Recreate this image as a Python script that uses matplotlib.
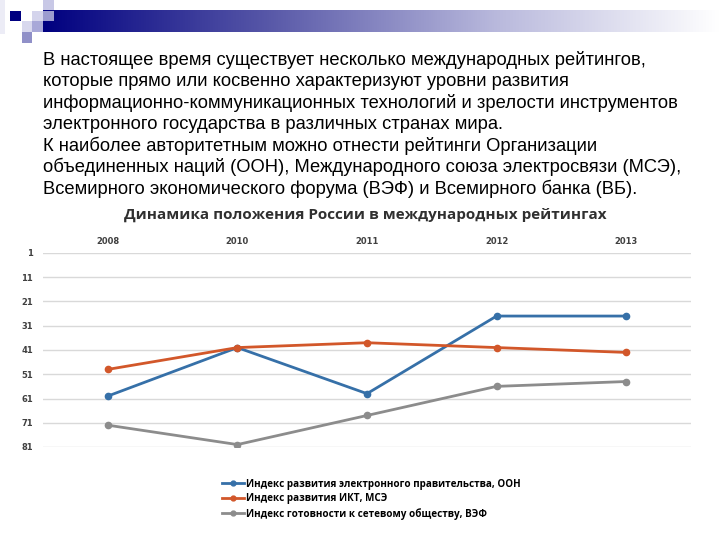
import matplotlib
matplotlib.use("Agg")
import matplotlib.pyplot as plt
import numpy as np
from matplotlib.patches import Rectangle
from matplotlib.lines import Line2D

# данные (место России в рейтинге)
years = ["2008", "2010", "2011", "2012", "2013"]
oon = [60, 40, 59, 27, 27]
mse = [49, 40, 38, 40, 42]
vef = [72, 80, 68, 56, 54]
y_ticks = [1, 11, 21, 31, 41, 51, 61, 71, 81]

labels = ["Индекс развития электронного правительства, ООН",
          "Индекс развития ИКТ, МСЭ",
          "Индекс готовности к сетевому обществу, ВЭФ"]
colors = ["#3670a8", "#d2572a", "#8c8c8c"]

paragraph = [
    "В настоящее время существует несколько международных рейтингов,",
    "которые прямо или косвенно характеризуют уровни развития",
    "информационно-коммуникационных технологий и зрелости инструментов",
    "электронного государства в различных странах мира.",
    "К наиболее авторитетным можно отнести рейтинги Организации",
    "объединенных наций (ООН), Международного союза электросвязи (МСЭ),",
    "Всемирного экономического форума (ВЭФ) и Всемирного банка (ВБ).",
]

fig = plt.figure(figsize=(7.2, 5.4), dpi=100)

# фон слайда: декоративные квадраты и градиентная полоса
deco = fig.add_axes([0, 0, 1, 1])
deco.axis("off")
grad = np.linspace(0, 1, 256).reshape(1, -1)
deco.imshow(grad, extent=(43, 720, 32, 10), aspect="auto",
            cmap=matplotlib.colors.LinearSegmentedColormap.from_list(
                "bar", ["#000080", "#5858a8", "#b8b8dc", "#ffffff"]))
deco.set_xlim(0, 720)
deco.set_ylim(540, 0)
squares = [
    (10, 11, 11, 10, "#000080"),
    (43, 0, 11, 10, "#c8c8e6"),
    (32, 11, 11, 10, "#d4d4ec"),
    (43, 11, 11, 10, "#9c9ccf"),
    (22, 21, 10, 11, "#d8d8ee"),
    (32, 21, 11, 11, "#a8a8d8"),
    (22, 32, 10, 11, "#9090c8"),
    (0, 0, 5, 34, "#ececf6"),
]
for x, y, w, h, c in squares:
    deco.add_patch(Rectangle((x, y), w, h, color=c, lw=0))

for i, line in enumerate(paragraph):
    deco.text(43, 60 + i * 21.4, line, fontsize=13.2, family="Liberation Sans",
              va="center", ha="left", color="#000000")

deco.text(365, 215, "Динамика положения России в международных рейтингах",
          fontsize=11, fontweight="bold", family="Open Sans",
          ha="center", va="center", color="#303030")

# график
ax = fig.add_axes([43 / 720, 1 - 447 / 540, 648 / 720, 194 / 540])
x = np.arange(len(years))
for vals, c in zip([oon, mse, vef], colors):
    ax.plot(x, vals, color=c, lw=2, marker="o", ms=4.5)

ax.set_xlim(-0.5, len(years) - 0.5)
ax.set_ylim(81, 1)
ax.set_yticks(y_ticks)
ax.set_yticklabels([str(v) for v in y_ticks], fontsize=6, fontweight="bold",
                   color="#404040")
ax.set_xticks(x)
ax.set_xticklabels(years, fontsize=6, fontweight="bold", color="#404040")
ax.xaxis.tick_top()
ax.tick_params(axis="x", length=0, pad=5)
ax.tick_params(axis="y", length=0, pad=7)
ax.grid(axis="y", color="#d9d9d9", lw=1)
ax.set_axisbelow(True)
for s in ax.spines.values():
    s.set_visible(False)

handles = [Line2D([], [], color=c, lw=2, marker="o", ms=3.5) for c in colors]
fig.legend(handles, labels, loc="upper left", bbox_to_anchor=(213 / 720, 1 - 470 / 540),
           frameon=False, handlelength=2.2, handletextpad=0.2, labelspacing=0.35,
           prop={"family": "Open Sans", "weight": "bold", "size": 7.1})

fig.savefig("out.png", dpi=100)
